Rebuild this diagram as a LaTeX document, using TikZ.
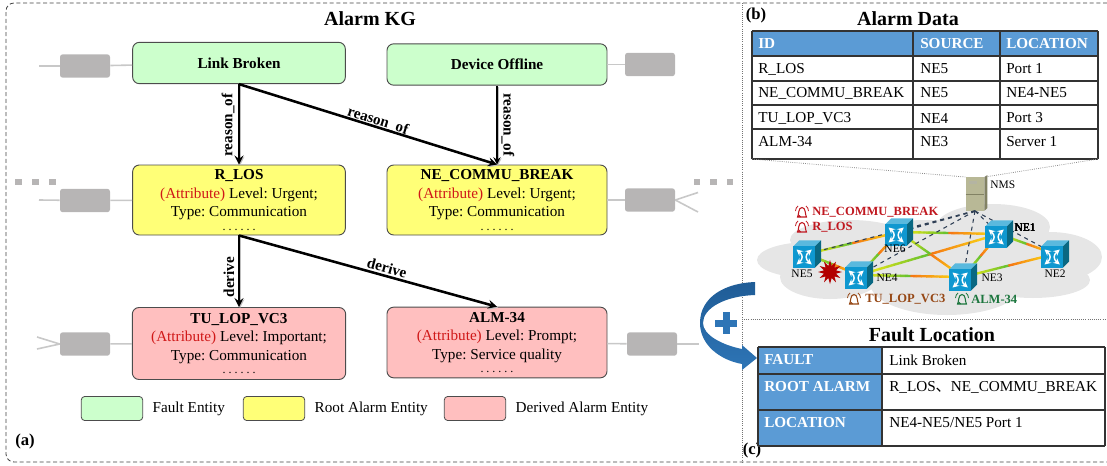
\documentclass[tikz,border=0pt]{standalone}
\usepackage{fontspec}
\setmainfont{Liberation Serif}
\newfontfamily\cjkfont{Noto Sans CJK SC}
\usetikzlibrary{calc, shapes.geometric, positioning, arrows}
\definecolor{faultgreen}{RGB}{204,255,204}
\definecolor{rootyellow}{RGB}{255,255,119}
\definecolor{derivedpink}{RGB}{255,191,191}
\definecolor{stubgray}{RGB}{183,181,181}
\definecolor{stubline}{RGB}{200,200,200}
\definecolor{headblue}{RGB}{91,155,213}
\definecolor{attrred}{RGB}{208,24,24}
\definecolor{bellred}{RGB}{192,24,32}
\definecolor{bellbrown}{RGB}{150,72,22}
\definecolor{bellgreen}{RGB}{28,118,62}
\definecolor{cloudgray}{RGB}{230,230,230}
\definecolor{swfront}{RGB}{15,152,208}
\definecolor{swtop}{RGB}{90,185,222}
\definecolor{swside}{RGB}{10,104,130}
\definecolor{arrowblue}{RGB}{46,117,182}
\definecolor{arrowdark}{RGB}{31,92,150}
\definecolor{linkgreen}{RGB}{90,190,50}
\definecolor{linkyellow}{RGB}{250,235,20}
\definecolor{linkorange}{RGB}{245,120,20}
\definecolor{dashblue}{RGB}{47,63,85}
\definecolor{nmstan}{RGB}{184,184,150}
\definecolor{nmsside}{RGB}{130,130,100}
\newcommand\bodyfont{\fontsize{11.4}{13.9}\selectfont\frenchspacing}
\newcommand\entitytext[3]{\textbf{#1}\\{\color{attrred}(Attribute)} #2\\#3\\[-4pt]{\fontsize{9}{9}\selectfont. . . . . .}}
\tikzset{
	entity/.style={draw=black!70, line width=0.7pt, rounded corners=5pt, align=center, font=\bodyfont, inner sep=0pt, minimum width=159.5pt},
	faultbox/.style={entity, fill=faultgreen, minimum height=31pt},
	rootbox/.style={entity, fill=rootyellow, minimum height=52.5pt},
	derivedbox/.style={entity, fill=derivedpink, minimum height=54pt},
	keybox/.style={draw=black!70, line width=0.6pt, rounded corners=2.5pt, minimum width=46pt, minimum height=18pt, inner sep=0pt},
	stubbox/.style={fill=stubgray, rounded corners=2pt, minimum width=37.5pt, minimum height=17.5pt, inner sep=0pt},
	stubdot/.style={fill=stubgray, minimum size=4.6pt, inner sep=0pt},
	stubedge/.style={draw=stubline, line width=1.2pt},
	relation/.style={-stealth, line width=1.9pt, preaction={draw=black!25, transform canvas={shift={(0.8pt,-0.8pt)}}}},
	relationlabel/.style={font=\bodyfont\bfseries, inner sep=0pt},
	paneltitle/.style={font=\fontsize{15}{18}\selectfont\bfseries, inner sep=0pt},
	panellabel/.style={font=\fontsize{12.5}{15}\selectfont\bfseries, inner sep=0pt},
	cell/.style={anchor=west, inner sep=0pt, font=\bodyfont},
	headcell/.style={cell, font=\bodyfont\bfseries, text=white},
	grid/.style={draw=black!80, line width=0.8pt},
	elabel/.style={font=\fontsize{8.6}{10}\selectfont, inner sep=0pt},
	alarmlabel/.style={anchor=west, inner sep=0pt, font=\fontsize{9.4}{12}\selectfont\bfseries},
	nedash/.style={draw=dashblue, dashed, line width=0.8pt},
	swicon/.style={fill=swfront, minimum width=16.5pt, minimum height=16pt, inner sep=0pt},
}
% one network element: cube with crossed arrows round the coordinate #1
\newcommand\neicon[1]{
\begin{scope}[shift={(#1)}]
	\fill[swtop] (-13.7,-7.7) -- (-7.7,-13.7) -- (14,-13.7) -- (8,-7.7) -- cycle;
	\fill[swside] (8,-7.7) -- (14,-13.7) -- (14,7.7) -- (8,13.7) -- cycle;
	\node[swicon] (#1icon) at (-2.85,3) {};
	\draw[white, line width=1.1pt, stealth-stealth] (-10.5,-4.5) .. controls (-4,1) and (-4,5) .. (-10.5,10.5);
	\draw[white, line width=1.1pt, stealth-stealth] (4.8,-4.5) .. controls (-1.7,1) and (-1.7,5) .. (4.8,10.5);
\end{scope}
}
% green to yellow to orange link
\newcommand\nelink[2]{
\foreach \i in {0,...,19}{
	\pgfmathsetmacro\segs{\i/20}
	\pgfmathsetmacro\sege{(\i+1)/20}
	\pgfmathtruncatemacro\segm{\i<10 ? 100-\i*10 : 200-\i*10}
	\ifnum\i<10 \colorlet{segcol}{linkyellow!\segm!linkgreen}\else \colorlet{segcol}{linkorange!\segm!linkyellow}\fi
	\draw[segcol, line width=1.8pt, line cap=round] ($(#1)!\segs!(#2)$) -- ($(#1)!\sege!(#2)$);
}
}
\newcommand\alarmbell[3]{
\begin{scope}[shift={(#1,#2)}]
	\draw[#3, line width=0.8pt] (-4.5,5) .. controls (-3,3) and (-4,-4.5) .. (0,-4.5) .. controls (4,-4.5) and (3,3) .. (4.5,5) -- cycle;
	\draw[#3, line width=0.8pt] (-1.5,5) arc (180:0:-1.5);
	\draw[#3, line width=0.6pt] (-6.5,-1) .. controls (-6.5,-3) and (-5.5,-5) .. (-4,-6);
	\draw[#3, line width=0.6pt] (6.5,-1) .. controls (6.5,-3) and (5.5,-5) .. (4,-6);
\end{scope}
}
\begin{document}
\begin{tikzpicture}[x=0.75pt, y=-0.75pt]
\useasboundingbox (0,0) rectangle (1107,465);

% frames
\draw[black!75, densely dashed, line width=0.6pt, rounded corners=6pt] (1107,3) -- (6,3) -- (6,462) -- (1107,462);
\draw[black!55, densely dotted, line width=0.6pt] (742,3) -- (742,462);
\draw[black!55, densely dotted, line width=0.6pt] (742,319) -- (1107,319);

% alarm KG
\node[paneltitle] (kgtitle) at (370,19) {Alarm KG};
\node[faultbox] (linkbroken) at (239,63) {\textbf{Link Broken}};
\node[faultbox, minimum width=165pt] (deviceoffline) at (497,64.5) {\textbf{Device Offline}};
\node[rootbox] (rlos) at (239,200) {\entitytext{R\_LOS}{Level: Urgent;}{Type: Communication}};
\node[rootbox, minimum width=165pt] (necommu) at (497,200) {\entitytext{NE\_COMMU\_BREAK}{Level: Urgent;}{Type: Communication}};
\node[derivedbox, minimum width=160pt] (tulop) at (239,343.5) {\entitytext{TU\_LOP\_VC3}{Level: Important;}{Type: Communication}};
\node[derivedbox, minimum width=165pt, minimum height=53pt] (alm) at (497,342.5) {\entitytext{ALM-34}{Level: Prompt;}{Type: Service quality}};

\draw[relation] (linkbroken.south) -- (rlos.north);
\draw[relation] (linkbroken.south) -- (necommu.north);
\draw[relation, line width=1.4pt] (deviceoffline.south) -- (necommu.north);
\draw[relation] (rlos.south) -- (tulop.north);
\draw[relation] (rlos.south) -- (alm.north);
\node[relationlabel, rotate=90] (lbl1) at (228,125) {reason\_of};
\node[relationlabel, rotate=-17.5] (lbl2) at (378,121) {reason\_of};
\node[relationlabel, rotate=-90] (lbl3) at (508,125) {reason\_of};
\node[relationlabel, rotate=90] (lbl4) at (229,277) {derive};
\node[relationlabel, rotate=-15] (lbl5) at (387,268) {derive};

% grey neighbours
\node[stubbox] (stub1) at (85,66) {};
\node[stubbox] (stub2) at (650,64.5) {};
\node[stubbox] (stub3) at (85,200.5) {};
\node[stubbox] (stub4) at (650,200) {};
\node[stubbox] (stub5) at (85,344) {};
\node[stubbox] (stub6) at (652,344) {};
\coordinate (end1) at (39,66);
\coordinate (end3) at (39,200);
\coordinate (end4a) at (698,192.5);
\coordinate (end4b) at (698,212);
\coordinate (end5a) at (37,337);
\coordinate (end5b) at (37,349);
\coordinate (end6) at (699,344);
\draw[stubedge] (end1) -- (stub1);
\draw[stubedge] (stub1) -- (linkbroken);
\draw[stubedge] (deviceoffline) -- (stub2);
\draw[stubedge] (end3) -- (stub3);
\draw[stubedge] (stub3) -- (rlos);
\draw[stubedge] (necommu) -- (stub4);
\draw[stubedge] (stub4.east) -- (end4a);
\draw[stubedge] (stub4.east) -- (end4b);
\draw[stubedge] (stub5.west) -- (end5a);
\draw[stubedge] (stub5.west) -- (end5b);
\draw[stubedge] (stub5) -- (tulop);
\draw[stubedge] (alm) -- (stub6);
\draw[stubedge] (stub6) -- (end6);
\foreach \x [count=\n] in {18.5,35.5,52.5,697,713.5,730}
	\node[stubdot] (dot\n) at (\x,182) {};

% legend
\node[keybox, fill=faultgreen] (key1) at (112,408.5) {};
\node[keybox, fill=rootyellow] (key2) at (274,408.5) {};
\node[keybox, fill=derivedpink] (key3) at (475,408.5) {};
\node[cell, right=7pt of key1] (keytext1) {Fault Entity};
\node[cell, right=7pt of key2] (keytext2) {Root Alarm Entity};
\node[cell, right=7pt of key3] (keytext3) {Derived Alarm Entity};
\node[panellabel] (laba) at (25,441) {(a)};
\node[panellabel] (labb) at (756,15) {(b)};
\node[panellabel] (labc) at (752,450) {(c)};

% alarm data table
\node[paneltitle] (datatitle) at (908,19) {Alarm Data};
\fill[headblue] (752,31) rectangle (1098,56);
\foreach \y in {31,56,81,105,129,159}
	\draw[grid] (752,\y) -- (1098,\y);
\foreach \x in {752,913,1000,1098}
	\draw[grid] (\x,31) -- (\x,159);
\node[headcell] (hid) at (758,44) {ID};
\node[headcell] (hsource) at (920,44) {SOURCE};
\node[headcell] (hlocation) at (1006,44) {LOCATION};
\foreach \y/\rid/\rsrc/\rloc [count=\n] in {69/R\_LOS/NE5/Port 1, 93/NE\_COMMU\_BREAK/NE5/NE4-NE5, 118/TU\_LOP\_VC3/NE4/Port 3, 142/ALM-34/NE3/Server 1}{
	\node[cell] (ida\n) at (758,\y) {\rid};
	\node[cell] (src\n) at (920,\y) {\rsrc};
	\node[cell] (loc\n) at (1006,\y) {\rloc};
}

% network
\foreach \x/\y/\rx/\ry in {810/260/53/18, 830/277/50/22, 850/240/60/20, 927/237/67/17, 993/227/57/23, 1050/257/52/25, 947/283/77/32, 1033/280/57/18, 930/260/90/30}
	\fill[cloudgray] (\x,\y) ellipse [x radius=\rx, y radius=\ry];
\coordinate (ne1) at (999,234);
\coordinate (ne2) at (1055,254);
\coordinate (ne3) at (963,277);
\coordinate (ne4) at (859,275);
\coordinate (ne5) at (807,254);
\coordinate (ne6) at (899,232);
\node[fill=nmstan, minimum width=13.5pt, minimum height=25pt, inner sep=0pt] (nms) at (975,194) {};
\fill[nmsside] (nms.north east) -- ++(3,-2) -- ++(0,33) -- (nms.south east) -- cycle;
\fill[nmsside!60] (969,181) rectangle (977,184);
\draw[nmsside, line width=0.5pt] (nms.west) -- (nms.east);
\coordinate (datasw) at (752,159);
\coordinate (datase) at (1098,159);
\draw[black!45, densely dotted, line width=0.6pt] (datasw) -- (nms.north west);
\draw[black!45, densely dotted, line width=0.6pt] (datase) -- (nms.north east);
\node[elabel, anchor=west] (nmslabel) at (990,185) {NMS};
\nelink{ne5}{ne6}
\nelink{ne5}{ne4}
\nelink{ne4}{ne6}
\nelink{ne4}{ne1}
\nelink{ne4}{ne3}
\nelink{ne6}{ne1}
\nelink{ne6}{ne3}
\nelink{ne3}{ne1}
\nelink{ne1}{ne2}
\nelink{ne3}{ne2}
\draw[nedash, line width=1.2pt] (nms.south) -- (ne6);
\draw[nedash] (nms.south) -- (ne5);
\draw[nedash] (nms.south) -- (ne4);
\draw[nedash] (nms.south) -- (ne3);
\draw[nedash] (nms.south) -- (ne1);
\draw[nedash] (nms.south) -- (ne2);
\node[star, star points=12, star point ratio=1.9, fill=red!70!black, minimum size=18pt, inner sep=0pt] (burst) at (830,272) {};
\foreach \n in {ne1,ne2,ne3,ne4,ne5,ne6}
	\neicon{\n}
\node[elabel] (ne1label) at (1025,228) {NE1};
\node[elabel] (ne2label) at (1055,274) {NE2};
\node[elabel] (ne3label) at (992,278) {NE3};
\node[elabel] (ne4label) at (887,278) {NE4};
\node[elabel] (ne5label) at (802,274) {NE5};
\node[elabel] (ne6label) at (895,249) {NE6};
\node[alarmlabel, text=bellred] (alarm1) at (812,212) {NE\_COMMU\_BREAK};
\node[alarmlabel, text=bellred] (alarm2) at (812,227) {R\_LOS};
\node[alarmlabel, text=bellbrown] (alarm3) at (865,299) {TU\_LOP\_VC3};
\node[alarmlabel, text=bellgreen] (alarm4) at (971,299) {ALM-34};
\alarmbell{802}{212}{bellred}
\alarmbell{802}{227}{bellred}
\alarmbell{854}{299}{bellbrown}
\alarmbell{962}{299}{bellgreen}

% fault location table
\node[paneltitle] (faulttitle) at (932,335) {Fault Location};
\fill[headblue] (758,347) rectangle (882,446);
\foreach \y in {347,374,410,446}
	\draw[grid] (758,\y) -- (1105,\y);
\foreach \x in {758,882,1105}
	\draw[grid] (\x,347) -- (\x,446);
\node[headcell] (hfault) at (764,360) {FAULT};
\node[headcell] (hroot) at (764,387) {ROOT ALARM};
\node[headcell] (hloc) at (764,423) {LOCATION};
\node[cell] (vfault) at (889,360) {Link Broken};
\node[cell] (vroot) at (889,387) {R\_LOS{\cjkfont 、}NE\_COMMU\_BREAK};
\node[cell] (vloc) at (889,423) {NE4-NE5/NE5 Port 1};

% plus arrow
\shade[top color=arrowdark, bottom color=arrowblue] (755,282) .. controls (725,283) and (700,297) .. (700,323) .. controls (700,345) and (720,360) .. (742,364) -- (742,370) -- (757,358) -- (742,345) -- (742,349) .. controls (722,345) and (703,335) .. (703,323) .. controls (703,308) and (725,296) .. (755,295) -- cycle;
\fill[arrowblue] (715,319.5) rectangle (737,326.5);
\fill[arrowblue] (722.5,312) rectangle (729.5,334);
\end{tikzpicture}
\end{document}
